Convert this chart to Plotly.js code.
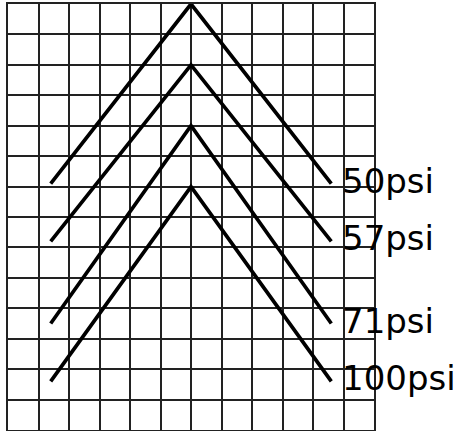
<!DOCTYPE html>
<html>
<head>
<meta charset="utf-8">
<script src="https://cdn.plot.ly/plotly-3.0.1.min.js"></script>
<style>html,body{margin:0;padding:0;background:#fff;}#chart{width:459px;height:431px;}</style>
</head>
<body>
<div id="chart"></div>
<script>
// Data
const labels = ['50psi', '57psi', '71psi', '100psi'];
const chevronX = [1.4, 6, 10.6];
const peakY = [14, 12, 10, 8];
const endY = [8.1, 6.2, 3.5, 1.6];

const traces = labels.map((lab, i) => ({
  type: 'scatter',
  mode: 'lines',
  name: lab,
  x: chevronX,
  y: [endY[i], peakY[i], endY[i]],
  line: {color: '#000', width: 3.7},
  hoverinfo: 'skip'
}));

const annotations = labels.map((lab, i) => ({
  x: chevronX[2],
  y: endY[i],
  xref: 'x', yref: 'y',
  text: lab,
  showarrow: false,
  xanchor: 'left',
  yanchor: 'middle',
  xshift: 9,
  yshift: 3,
  font: {family: 'DejaVu Sans', size: 34, color: '#000'}
}));

const axisCommon = {
  showgrid: true,
  gridcolor: '#222',
  gridwidth: 2,
  dtick: 1,
  tick0: 0,
  showticklabels: false,
  ticks: '',
  zeroline: false,
  showline: true,
  linecolor: '#222',
  linewidth: 2,
  mirror: true,
  fixedrange: true
};

const layout = {
  width: 459,
  height: 431,
  margin: {l: 8, r: 85, t: 4, b: 1, pad: 0},
  paper_bgcolor: '#fff',
  plot_bgcolor: '#fff',
  showlegend: false,
  xaxis: Object.assign({}, axisCommon, {range: [0, 12]}),
  yaxis: Object.assign({}, axisCommon, {range: [0, 14]}),
  annotations: annotations
};

Plotly.newPlot('chart', traces, layout, {displayModeBar: false, staticPlot: true});
</script>
</body>
</html>
